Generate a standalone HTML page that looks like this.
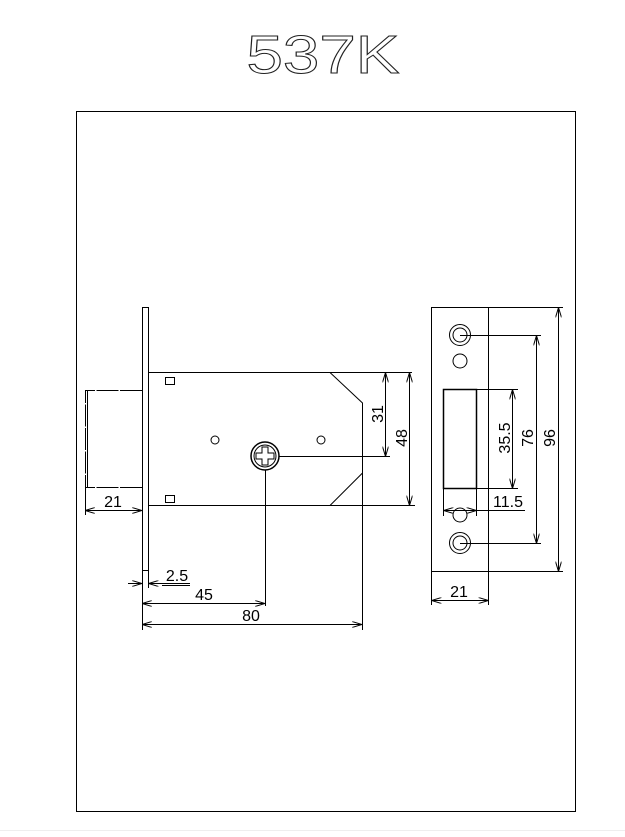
<!DOCTYPE html>
<html><head><style>body{margin:0;background:#fff}svg{display:block}</style></head><body>
<svg width="625" height="837" viewBox="0 0 625 837" xmlns="http://www.w3.org/2000/svg" font-family="Liberation Sans, sans-serif">
<defs>
<marker id="a" viewBox="0 0 10 6" refX="10" refY="3" markerWidth="10" markerHeight="6" orient="auto-start-reverse" markerUnits="userSpaceOnUse"><path d="M0,0 L10,3 L0,6" fill="none" stroke="#000" stroke-width="1"/></marker>
</defs>
<text x="323" y="73" font-size="54" text-anchor="middle" fill="#fff" stroke="#222" stroke-width="1" textLength="153" lengthAdjust="spacingAndGlyphs">537K</text>
<rect x="76.5" y="111.5" width="499" height="700" fill="none" stroke="#000" stroke-width="1"/>
<line x1="0" y1="830.5" x2="625" y2="830.5" stroke="#eee"/>
<g fill="none" stroke="#000" stroke-width="1">
<rect x="142.5" y="307.5" width="6" height="263"/>
<path d="M148.5 372.5 H330 L362.5 403 V473 L330 505.5 H148.5"/>
<line x1="330" y1="372.5" x2="412" y2="372.5"/>
<line x1="330" y1="505.5" x2="415" y2="505.5"/>
<rect x="165.5" y="377.5" width="9" height="7"/>
<rect x="165.5" y="495.5" width="9" height="7"/>
<circle cx="215" cy="440" r="4"/>
<circle cx="321" cy="440" r="4"/>
<circle cx="265" cy="456" r="14" stroke-width="1.5"/>
<circle cx="265" cy="456" r="11"/>
<path d="M262 447 H268 V453 H274 V459 H268 V465 H262 V459 H256 V453 H262 Z"/>
<line x1="279" y1="456.5" x2="390" y2="456.5"/>
<line x1="265.5" y1="470" x2="265.5" y2="606"/>
<path d="M142 390.5 H85.5 V487.5 H142" stroke-dasharray="22 1.5"/>
<line x1="87.5" y1="390" x2="87.5" y2="487"/>
<line x1="85.5" y1="487" x2="85.5" y2="515"/>
<line x1="85" y1="510.5" x2="142" y2="510.5" marker-start="url(#a)" marker-end="url(#a)"/>
<line x1="142.5" y1="571" x2="142.5" y2="630"/>
<line x1="148.5" y1="571" x2="148.5" y2="588"/>
<line x1="362.5" y1="473" x2="362.5" y2="630"/>
<line x1="128" y1="583.5" x2="142" y2="583.5" marker-end="url(#a)"/>
<line x1="190" y1="583.5" x2="148.5" y2="583.5" marker-end="url(#a)"/>
<line x1="142" y1="603.5" x2="265" y2="603.5" marker-start="url(#a)" marker-end="url(#a)"/>
<line x1="142" y1="624.5" x2="362" y2="624.5" marker-start="url(#a)" marker-end="url(#a)"/>
<line x1="385.5" y1="372.5" x2="385.5" y2="456.5" marker-start="url(#a)" marker-end="url(#a)"/>
<line x1="409.5" y1="372.5" x2="409.5" y2="505.5" marker-start="url(#a)" marker-end="url(#a)"/>
<rect x="431.5" y="307.5" width="57" height="264"/>
<circle cx="460" cy="335" r="10.5"/><circle cx="460" cy="335" r="7"/>
<circle cx="460" cy="361" r="7"/>
<circle cx="460" cy="515" r="7"/>
<circle cx="460" cy="543" r="10.5"/><circle cx="460" cy="543" r="7"/>
<rect x="443.5" y="389.5" width="33" height="99" stroke-width="1.5"/>
<line x1="488" y1="307.5" x2="563" y2="307.5"/>
<line x1="488" y1="571.5" x2="563" y2="571.5"/>
<line x1="558.5" y1="307.5" x2="558.5" y2="571.5" marker-start="url(#a)" marker-end="url(#a)"/>
<line x1="460" y1="335.5" x2="541" y2="335.5"/>
<line x1="460" y1="543.5" x2="541" y2="543.5"/>
<line x1="536.5" y1="335.5" x2="536.5" y2="543.5" marker-start="url(#a)" marker-end="url(#a)"/>
<line x1="476" y1="389.5" x2="518" y2="389.5"/>
<line x1="476" y1="488.5" x2="518" y2="488.5"/>
<line x1="512.5" y1="389.5" x2="512.5" y2="488.5" marker-start="url(#a)" marker-end="url(#a)"/>
<line x1="443.5" y1="489" x2="443.5" y2="516"/>
<line x1="476.5" y1="489" x2="476.5" y2="516"/>
<line x1="443.5" y1="510.5" x2="476.5" y2="510.5" marker-start="url(#a)" marker-end="url(#a)"/>
<line x1="476.5" y1="510.5" x2="525" y2="510.5"/>
<line x1="431.5" y1="572" x2="431.5" y2="605"/>
<line x1="488.5" y1="572" x2="488.5" y2="605"/>
<line x1="431.5" y1="600.5" x2="488.5" y2="600.5" marker-start="url(#a)" marker-end="url(#a)"/>
</g>
<g font-size="16" fill="#000" text-anchor="middle">
<text x="113" y="507">21</text>
<text x="177" y="581">2.5</text>
<text x="204" y="600">45</text>
<text x="251" y="621">80</text>
<text x="459" y="597">21</text>
<text x="508" y="507">11.5</text>
<text transform="translate(383,414) rotate(-90)">31</text>
<text transform="translate(407,438) rotate(-90)">48</text>
<text transform="translate(510,438) rotate(-90)">35.5</text>
<text transform="translate(533,438) rotate(-90)">76</text>
<text transform="translate(555,438) rotate(-90)">96</text>
</g>
<line x1="162" y1="585.5" x2="190" y2="585.5" stroke="#000"/>
</svg>
</body></html>
